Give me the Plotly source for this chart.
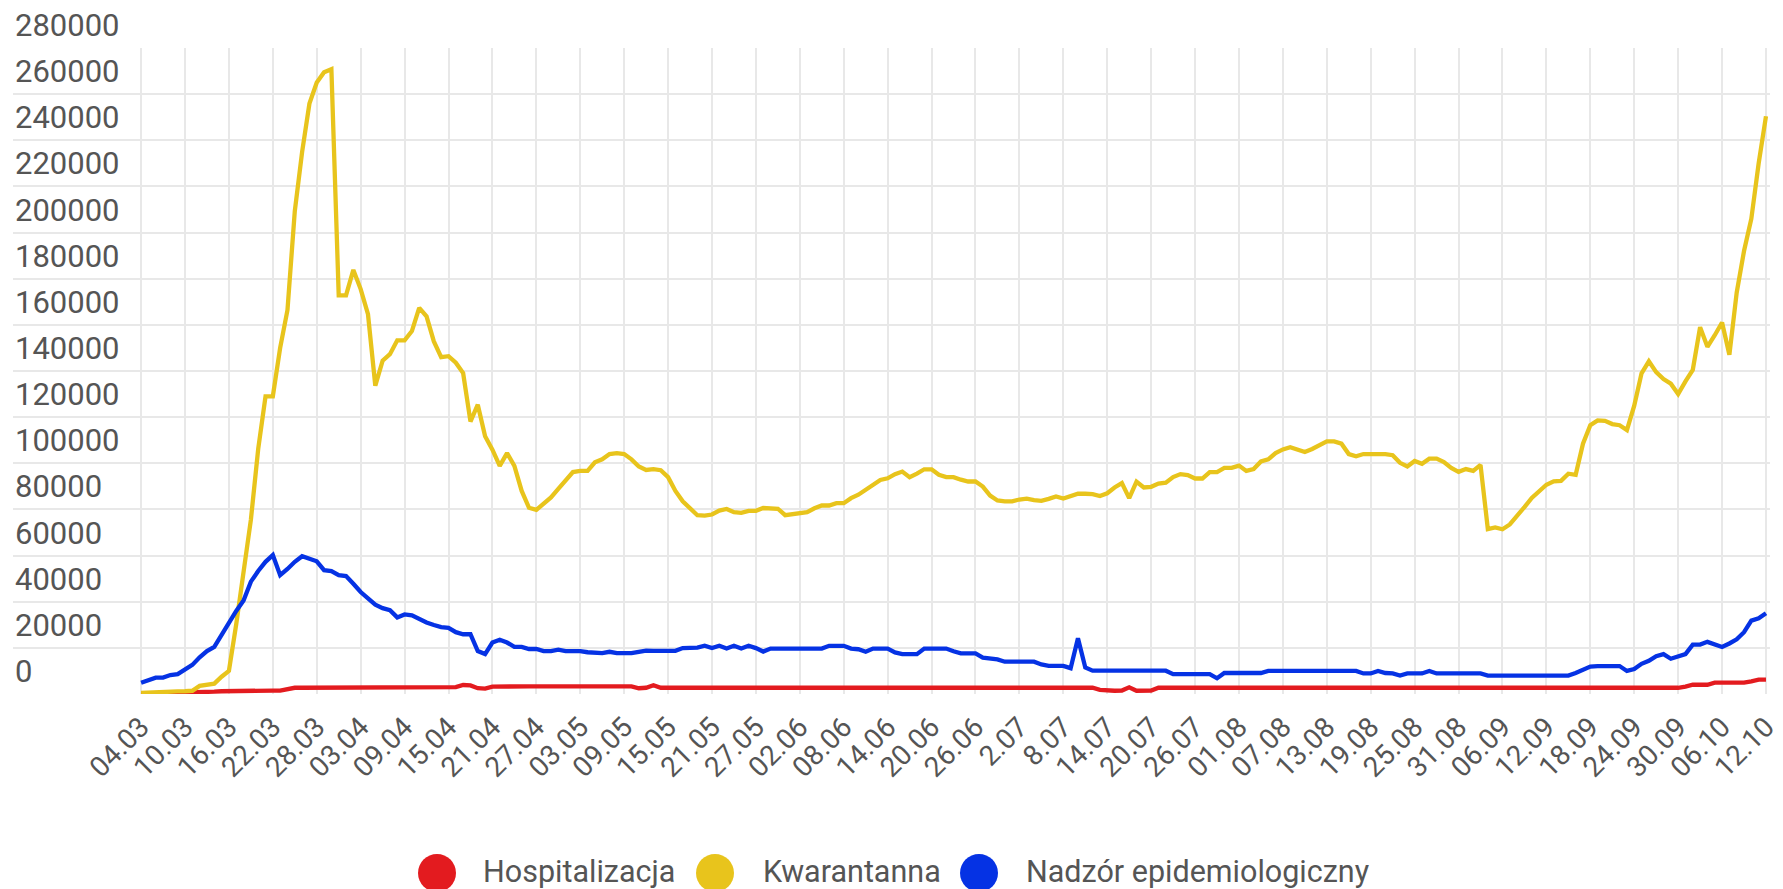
import plotly.graph_objects as go
from datetime import date, timedelta

# ---------------- data ----------------
start = date(2020, 3, 4)
n_days = 223
dates = [(start + timedelta(days=i)).strftime("%d.%m") for i in range(n_days)]

tick_labels = ["04.03", "10.03", "16.03", "22.03", "28.03", "03.04", "09.04", "15.04",
               "21.04", "27.04", "03.05", "09.05", "15.05", "21.05", "27.05", "02.06",
               "08.06", "14.06", "20.06", "26.06", "2.07", "8.07", "14.07", "20.07",
               "26.07", "01.08", "07.08", "13.08", "19.08", "25.08", "31.08", "06.09",
               "12.09", "18.09", "24.09", "30.09", "06.10", "12.10"]

y_ticks = [0, 20000, 40000, 60000, 80000, 100000, 120000, 140000,
           160000, 180000, 200000, 220000, 240000, 260000, 280000]
y_tick_labels = ["0", "20000", "40000", "60000", "80000", "100000", "120000", "140000",
                 "160000", "180000", "200000", "220000", "240000", "260000", "280000"]

series_names = ["Hospitalizacja", "Kwarantanna", "Nadzór epidemiologiczny"]
series_colors = ["#e31b1f", "#e8c41c", "#0532e4"]

hospitalizacja = [
    200, 250, 300, 350, 400, 400, 450, 500, 550, 600,
    1000, 1200, 1300, 1300, 1400, 1400, 1400, 1500, 1500, 1500,
    2000, 2700, 2700, 2700, 2700, 2700, 2700, 2700, 2700, 2700,
    2700, 2700, 2700, 2700, 2700, 2700, 2700, 2700, 2700, 2700,
    2700, 2700, 2700, 3000, 3900, 3700, 2500, 2300, 3200, 3300,
    3300, 3300, 3300, 3300, 3300, 3300, 3300, 3300, 3300, 3300,
    3300, 3300, 3300, 3300, 3300, 3300, 3300, 3300, 2500, 2700,
    3800, 2700, 2700, 2700, 2700, 2700, 2700, 2700, 2700, 2700,
    2700, 2700, 2700, 2700, 2700, 2700, 2700, 2700, 2700, 2700,
    2700, 2700, 2700, 2700, 2700, 2700, 2700, 2700, 2700, 2700,
    2700, 2700, 2700, 2700, 2700, 2700, 2700, 2700, 2700, 2700,
    2700, 2700, 2700, 2700, 2700, 2700, 2700, 2700, 2700, 2700,
    2700, 2700, 2700, 2700, 2700, 2700, 2700, 2700, 2700, 2700,
    2700, 1800, 1400, 1400, 1500, 2900, 1400, 1400, 1500, 2700,
    2700, 2700, 2700, 2700, 2700, 2700, 2700, 2700, 2700, 2700,
    2700, 2700, 2700, 2700, 2700, 2700, 2700, 2700, 2700, 2700,
    2700, 2700, 2700, 2700, 2700, 2700, 2700, 2700, 2700, 2700,
    2700, 2700, 2700, 2700, 2700, 2700, 2700, 2700, 2700, 2700,
    2700, 2700, 2700, 2700, 2700, 2700, 2700, 2700, 2700, 2700,
    2700, 2700, 2700, 2700, 2700, 2700, 2700, 2700, 2700, 2700,
    2700, 2700, 2700, 2700, 2700, 2700, 2700, 2700, 2700, 2700,
    2700, 3200, 4000, 4000, 4000, 4900, 4900, 4900, 4900, 4900,
    5500, 6200, 6200,
]

kwarantanna = [
    500, 700, 900, 1000, 1000, 1100, 1200, 1400, 3500, 3800,
    4500, 7500, 10000, 30300, 52900, 75500, 106200, 129000, 129000, 150000,
    166400, 209300, 234900, 255900, 265000, 269500, 270800, 172800, 172800, 183800,
    175500, 164600, 133600, 144500, 147300, 153300, 153300, 157300, 167400, 163700,
    152800, 146000, 146400, 143600, 139100, 118100, 125400, 111700, 105900, 98900,
    104400, 98900, 88000, 80700, 79800, 82500, 85200, 88900, 92500, 96200,
    96700, 96700, 100400, 101700, 104000, 104400, 104000, 101700, 98600, 97100,
    97500, 97000, 94000, 88000, 83500, 80500, 77500, 77300, 77800, 79500,
    80200, 78800, 78500, 79400, 79400, 80600, 80600, 80300, 77500, 77800,
    78400, 78800, 80500, 81700, 81700, 82700, 82700, 84900, 86400, 88500,
    91000, 92800, 93500, 95300, 96400, 94000, 95500, 97400, 97400, 95000,
    94000, 94000, 92900, 92100, 92100, 89900, 86000, 83900, 83500, 83500,
    84300, 84700, 84000, 83700, 84600, 85600, 84700, 86000, 86800, 86800,
    86600, 85800, 87000, 89500, 91400, 84900, 92000, 89500, 89800, 91200,
    91600, 94000, 95300, 94900, 93400, 93400, 96200, 96200, 98000, 98000,
    99000, 96700, 97500, 100800, 101700, 104400, 106000, 107000, 106000, 104900,
    106200, 107700, 109500, 109500, 108500, 104000, 103000, 104000, 104000, 104000,
    104000, 103500, 100200, 98600, 101000, 99800, 102000, 102000, 100500, 98000,
    96300, 97500, 96700, 99300, 71500, 72200, 71400, 73500, 77600, 81000,
    85000, 88000, 90700, 92200, 92400, 95500, 95000, 108500, 116500, 118600,
    118400, 117000, 116500, 114400, 125000, 139000, 144200, 139500, 136500, 134500,
    130000, 135500, 140500, 159000, 150500, 155500, 161000, 147000, 174000, 192000,
    206000, 230000, 250400,
]

nadzor = [
    4900, 6200, 7100, 7100, 8200, 8600, 10400, 12600, 15900, 18600,
    20400, 25900, 31400, 36000, 40500, 48700, 53300, 57300, 60200, 51500,
    54200, 57300, 59700, 58800, 57500, 53700, 53300, 51500, 51100, 47800,
    44200, 41400, 38700, 37200, 36300, 33200, 34500, 34100, 32300, 31000,
    29900, 29000, 28700, 26800, 25900, 25900, 18600, 17300, 22300, 23500,
    22300, 20400, 20400, 19500, 19500, 18600, 18600, 19200, 18600, 18600,
    18600, 18100, 17700, 17700, 18300, 17700, 17700, 17700, 18300, 18800,
    18700, 18700, 18700, 18700, 19900, 19900, 20100, 20900, 19900, 20900,
    19700, 20900, 19700, 20900, 19900, 18400, 19700, 19700, 19700, 19700,
    19700, 19700, 19700, 19700, 20900, 20900, 20900, 19700, 19400, 18300,
    19700, 19700, 19700, 18000, 17300, 17300, 17300, 19700, 19700, 19700,
    19700, 18500, 17600, 17600, 17600, 15800, 15400, 15000, 14000, 14000,
    14000, 14000, 14000, 12800, 12200, 12200, 12200, 11200, 24200, 11500,
    10100, 10100, 10100, 10100, 10100, 10100, 10100, 10100, 10100, 10100,
    10100, 8600, 8600, 8600, 8600, 8600, 8600, 6800, 9100, 9100,
    9100, 9100, 9100, 9100, 10000, 10000, 10000, 10000, 10000, 10000,
    10000, 10000, 10000, 10000, 10000, 10000, 10000, 8900, 8900, 10000,
    9100, 8900, 8000, 8900, 8900, 8900, 10000, 8900, 8900, 8900,
    8900, 8900, 8900, 8900, 8000, 8000, 8000, 8000, 8000, 8000,
    8000, 8000, 8000, 8000, 8000, 8000, 9100, 10400, 11900, 12100,
    12100, 12100, 12100, 10000, 10800, 13100, 14400, 16400, 17300, 15300,
    16200, 17300, 21400, 21400, 22600, 21400, 20400, 21900, 23700, 26800,
    31800, 32800, 35000,
]

series_values = [hospitalizacja, kwarantanna, nadzor]

# ---------------- layout constants (pixels) ----------------
W, H = 1783, 889
ML, MR, MT, MB = 13, 13, 48, 195
plot_w = W - ML - MR
plot_h = H - MT - MB
text_color = "#555555"
grid_color = "#e8e8e8"
font_family = "Roboto, 'Open Sans', sans-serif"

fig = go.Figure()
for name, vals, col in zip(series_names, series_values, series_colors):
    fig.add_trace(go.Scatter(
        x=dates, y=vals, name=name, mode="lines",
        line=dict(color=col, width=4.3), showlegend=False,
        hovertemplate="%{x}: %{y}<extra>" + name + "</extra>",
    ))

tick_vals = dates[::6]

fig.update_layout(
    width=W, height=H,
    margin=dict(l=ML, r=MR, t=MT, b=MB, pad=0, autoexpand=False),
    paper_bgcolor="white", plot_bgcolor="white",
    font=dict(family=font_family, color=text_color),
    xaxis=dict(
        type="category", automargin=False,
        range=[-17.5, n_days - 1 + 0.55],
        tickmode="array", tickvals=tick_vals, ticktext=tick_labels,
        tickangle=-45, tickfont=dict(size=28, color=text_color),
        ticklabelstandoff=10, ticklabelshift=0,
        showgrid=True, gridcolor=grid_color, gridwidth=1.6,
        ticks="", showline=False, zeroline=False,
    ),
    yaxis=dict(
        automargin=False,
        range=[0, 280000], tickmode="array", tickvals=y_ticks,
        showticklabels=False,
        showgrid=True, gridcolor=grid_color, gridwidth=1.6,
        ticks="", showline=False, zeroline=False,
    ),
)

annotations = []
# y-axis labels sitting above their gridlines, at the left edge
for v, lab in zip(y_ticks, y_tick_labels):
    annotations.append(dict(
        text=lab, xref="paper", yref="y", x=0, y=v,
        xanchor="left", yanchor="bottom", xshift=0, yshift=2,
        showarrow=False, font=dict(size=31, color=text_color, family=font_family),
    ))

# ---------------- custom legend (large circles) ----------------
circle_y_px = 873
text_y_px = 871
circle_x_px = [437, 715, 979]
label_x_px = [481, 761, 1024]
pcy = (MT + plot_h - circle_y_px) / plot_h
pty = (MT + plot_h - text_y_px) / plot_h
shapes = []
for name, col, cx, lx in zip(series_names, series_colors, circle_x_px, label_x_px):
    shapes.append(dict(
        type="circle", xref="paper", yref="paper",
        xsizemode="pixel", ysizemode="pixel",
        xanchor=(cx - ML) / plot_w, yanchor=pcy,
        x0=-19, x1=19, y0=-19, y1=19,
        fillcolor=col, line=dict(width=0), layer="above",
    ))
    annotations.append(dict(
        text=name, xref="paper", yref="paper",
        x=(lx - ML) / plot_w, y=pty, xanchor="left", yanchor="middle",
        showarrow=False, font=dict(size=30.5, color=text_color, family=font_family),
    ))
fig.update_layout(shapes=shapes, annotations=annotations)

fig.write_html(
    "out.html",
    config={"displayModeBar": False},
    post_script="document.body.style.margin='0';document.body.style.overflow='hidden';",
)
